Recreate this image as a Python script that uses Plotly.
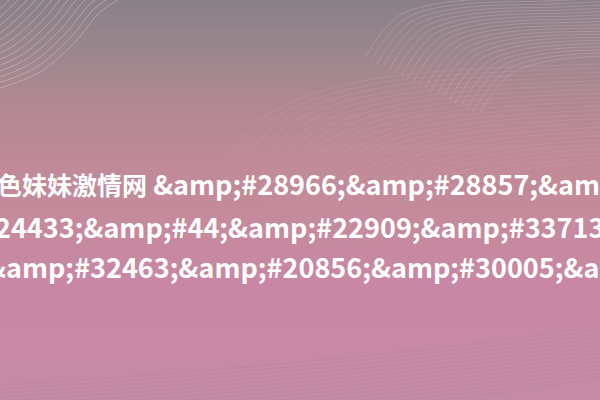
import plotly.graph_objects as go

# background gradient, top -> bottom
grad_pos = [0.0, 0.12, 0.25, 0.40, 0.55, 0.70, 0.85, 1.0]
grad_colors = ["#8a8089", "#9a868d", "#b08891", "#c08a97", "#c58a9c", "#c887a4", "#c889a6", "#c48aa6"]

# banner text, only the part visible in the picture
title_cjk = "色妹妹激情网"
text_lines = [
    " &amp;#28966;&amp;#28857;&am",
    "24433;&amp;#44;&amp;#22909;&amp;#33713",
    "&amp;#32463;&amp;#20856;&amp;#30005;&a",
]
text_y = [183, 226, 266]
text_x = [-5, -7, -16]

# decorative wave guides (pixel coords)
wave_tl_x = [0, 40, 75, 100, 118]
wave_tl_y = [88, 72, 42, 12, 0]
wave_tr_x = [365, 380, 400, 430, 470, 540, 600]
wave_tr_y = [58, 35, 15, 5, 0, -2, -5]
wave_mid_x = [220, 260, 310, 380, 460, 540, 600]
wave_mid_y = [170, 120, 95, 78, 70, 66, 64]
wave_bot_x = [0, 150, 300, 420, 520, 600]
wave_bot_y = [385, 375, 362, 350, 338, 325]

W, H = 600, 400

fig = go.Figure()

fig.add_trace(go.Heatmap(
    x=[0, W],
    y=[p * H for p in grad_pos],
    z=[[p, p] for p in grad_pos],
    colorscale=[[p, c] for p, c in zip(grad_pos, grad_colors)],
    showscale=False,
    hoverinfo="skip",
    zsmooth="best",
))


def add_wave(xs, ys, n, dx, dy, color, opacity, width=1):
    for i in range(n):
        fig.add_trace(go.Scatter(
            x=[x + dx * i for x in xs],
            y=[y + dy * i for y in ys],
            mode="lines",
            line=dict(color=color, width=width, shape="spline"),
            opacity=opacity,
            hoverinfo="skip",
            showlegend=False,
        ))


add_wave(wave_tl_x, wave_tl_y, 22, -5, -4, "#d8c0c8", 0.55)
add_wave(wave_tr_x, wave_tr_y, 20, 6, 3, "#e4b2c0", 0.35)
add_wave(wave_mid_x, wave_mid_y, 24, 6, 4, "#d9a3b6", 0.25)
add_wave(wave_bot_x, wave_bot_y, 14, 0, 4, "#b07a98", 0.25)

for i, (line, ty, tx) in enumerate(zip(text_lines, text_y, text_x)):
    label = line.replace("&amp;", "&amp;amp;")
    if i == 0:
        label = f'<span style="font-size:25px">{title_cjk}</span>' + label
    fig.add_annotation(
        x=0, y=ty, xref="x", yref="y",
        xanchor="left", yanchor="middle",
        xshift=tx,
        text=label,
        showarrow=False,
        font=dict(family="Noto Sans CJK SC", size=27, color="white", weight="bold"),
    )

fig.update_xaxes(range=[0, W], visible=False, fixedrange=True)
fig.update_yaxes(range=[H, 0], visible=False, fixedrange=True)
fig.update_layout(
    width=W, height=H,
    margin=dict(l=0, r=0, t=0, b=0),
    paper_bgcolor="#c48a9c",
    plot_bgcolor="#c48a9c",
    showlegend=False,
)

fig.write_html(
    "out.html",
    config={"displayModeBar": False},
    post_script="document.body.style.margin='0';",
)
